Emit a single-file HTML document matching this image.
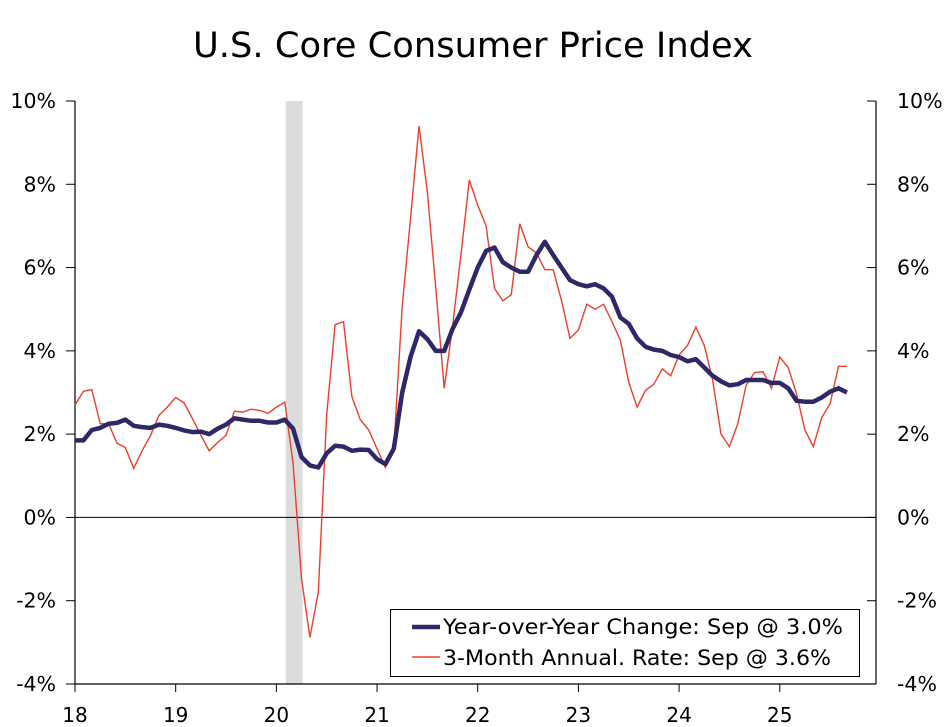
<!DOCTYPE html>
<html><head><meta charset="utf-8"><style>
body{margin:0;background:#fff;}
svg{display:block;font-family:"DejaVu Sans","Liberation Sans",sans-serif;}
</style></head><body>
<svg id="chart" width="947" height="727" viewBox="0 0 947 727">
<text x="473" y="57" font-size="35" text-anchor="middle" fill="#000" textLength="560" lengthAdjust="spacingAndGlyphs">U.S. Core Consumer Price Index</text>
<g id="plot"></g>
</svg>
<script>
const yearLabels = ["18","19","20","21","22","23","24","25"];
const yTicks = [-4,-2,0,2,4,6,8,10];
const yoySeries = [
1.85,1.85,2.1,2.15,2.25,2.27,2.35,2.2,2.17,2.15,2.23,2.2,
2.15,2.09,2.05,2.06,2.0,2.13,2.23,2.38,2.35,2.32,2.32,2.28,
2.28,2.35,2.13,1.45,1.25,1.2,1.54,1.72,1.7,1.6,1.63,1.62,
1.4,1.28,1.65,3.0,3.86,4.47,4.28,4.0,4.0,4.53,4.92,5.47,
6.0,6.4,6.48,6.13,6.0,5.9,5.9,6.3,6.62,6.3,6.0,5.7,
5.6,5.55,5.6,5.5,5.3,4.8,4.65,4.3,4.1,4.03,4.0,3.9,
3.85,3.75,3.8,3.6,3.4,3.27,3.17,3.2,3.3,3.3,3.3,3.23,
3.23,3.1,2.8,2.78,2.78,2.88,3.02,3.1,3.0];
const threeMonthSeries = [
2.7,3.03,3.07,2.25,2.25,1.78,1.68,1.18,1.6,1.97,2.45,2.65,
2.88,2.75,2.37,1.97,1.6,1.8,1.97,2.55,2.53,2.6,2.57,2.5,
2.65,2.77,1.3,-1.46,-2.88,-1.8,2.47,4.63,4.7,2.9,2.35,2.1,
1.65,1.2,1.63,5.07,7.2,9.4,7.8,5.5,3.1,4.6,6.3,8.1,
7.5,7.0,5.5,5.2,5.35,7.05,6.5,6.35,5.95,5.95,5.2,4.3,
4.5,5.12,5.0,5.12,4.7,4.25,3.25,2.65,3.05,3.2,3.57,3.4,
3.9,4.13,4.57,4.13,3.3,2.0,1.7,2.25,3.18,3.48,3.5,3.1,
3.85,3.6,2.97,2.1,1.7,2.4,2.73,3.63,3.63];
const recessionMonths = [25,27];

const L=75,R=876,T=101,B=684;
const xOfMonth = i => L + i*8.39;
const yOf = v => B - (v - (-4)) * (B-T)/14;
const NS="http://www.w3.org/2000/svg";
const g=document.getElementById('plot');
function mk(tag,attrs){const e=document.createElementNS(NS,tag);for(const k in attrs)e.setAttribute(k,attrs[k]);g.appendChild(e);return e;}

const rec=mk('rect',{x:xOfMonth(recessionMonths[0])+1,y:T,width:(xOfMonth(recessionMonths[1])-xOfMonth(recessionMonths[0])),height:B-T,fill:'#dcdcdc'});



const z=mk('line',{x1:L,x2:R,y1:yOf(0),y2:yOf(0),stroke:'#000','stroke-width':1});



const axL=mk('line',{x1:L,x2:L,y1:T,y2:B,stroke:'#000','stroke-width':1.2});


const axR=mk('line',{x1:R,x2:R,y1:T,y2:B,stroke:'#000','stroke-width':1.2});


const axB=mk('line',{x1:L,x2:R,y1:B,y2:B,stroke:'#000','stroke-width':1.2});



yTicks.forEach(v=>{
  const y=yOf(v);
  const t1=mk('line',{x1:L-9,x2:L,y1:y,y2:y,stroke:'#000','stroke-width':1});
  
  
  const t2=mk('line',{x1:R-9,x2:R,y1:y,y2:y,stroke:'#000','stroke-width':1});
  
  
  const a=mk('text',{x:56,y:y+7,'font-size':20.5,'text-anchor':'end'});a.textContent=v+'%';
  
  
  const b=mk('text',{x:897,y:y+7,'font-size':20.5,'text-anchor':'start'});b.textContent=v+'%';
  
  
});
yearLabels.forEach((lab,k)=>{
  const x=xOfMonth(k*12);
  const t=mk('line',{x1:x,x2:x,y1:B,y2:B+8,stroke:'#000','stroke-width':1});
  
  
  const tx=mk('text',{x:x,y:722,'font-size':20,'text-anchor':'middle'});tx.textContent=lab;
  
  
});

function pts(arr){return arr.map((v,i)=>xOfMonth(i).toFixed(1)+','+yOf(v).toFixed(1)).join(' ');}
const red=mk('polyline',{points:pts(threeMonthSeries),fill:'none',stroke:'#e8402a','stroke-width':1.4,'stroke-linejoin':'miter'});


const blue=mk('polyline',{points:pts(yoySeries),fill:'none',stroke:'#2e2868','stroke-width':4.5,'stroke-linejoin':'round'});



const lb=mk('rect',{x:390.5,y:609.5,width:469,height:67,fill:'#fff',stroke:'#000','stroke-width':1});


const l1=mk('line',{x1:412,x2:440,y1:627,y2:627,stroke:'#2e2868','stroke-width':4.5});


const t1=mk('text',{x:443,y:634,'font-size':21.5,textLength:400,lengthAdjust:'spacingAndGlyphs'});t1.textContent='Year-over-Year Change: Sep @ 3.0%';


const l2=mk('line',{x1:412,x2:440,y1:657,y2:657,stroke:'#e8402a','stroke-width':1.4});


const t2=mk('text',{x:443,y:665,'font-size':21.5,textLength:388,lengthAdjust:'spacingAndGlyphs'});t2.textContent='3-Month Annual. Rate: Sep @ 3.6%';


</script>
</body></html>
